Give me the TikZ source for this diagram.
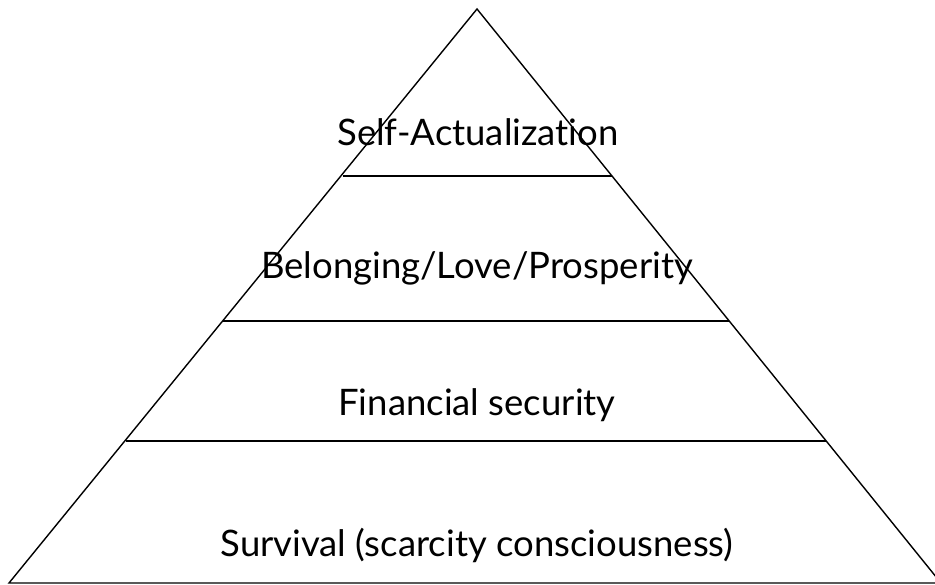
\documentclass[tikz,border=0pt]{standalone}
\usepackage{fontspec}
\setmainfont{Lato}[RawFeature={-liga;-dlig}]
\begin{document}
\begin{tikzpicture}[x=1pt,y=-1pt,
  edge/.style={line width=1.4pt, line join=miter},
  level/.style={line width=1.4pt},
  label/.style={font=\fontsize{36.5}{42}\selectfont, anchor=base, inner sep=0pt}]
\useasboundingbox (0,0) rectangle (935,585);
\clip (0,0) rectangle (935,585);
\coordinate (apex) at (477,9);
\coordinate (bl) at (9,583);
\coordinate (br) at (941,583);
\draw[edge] (bl) -- (apex) -- (br) -- cycle;
\coordinate (l1a) at (343,176); \coordinate (l1b) at (612,176);
\coordinate (l2a) at (223,321); \coordinate (l2b) at (729,321);
\coordinate (l3a) at (126,441); \coordinate (l3b) at (826,441);
\draw[level] (l1a) -- (l1b);
\draw[level] (l2a) -- (l2b);
\draw[level] (l3a) -- (l3b);
\node[label] (t1) at (478,146) {Self-Actualization};
\node[label] (t2) at (477,279) {Belonging/Love/Prosperity};
\node[label] (t3) at (477,416) {Financial security};
\node[label] (t4) at (477,556) {Survival (scarcity consciousness)};
\end{tikzpicture}
\end{document}
